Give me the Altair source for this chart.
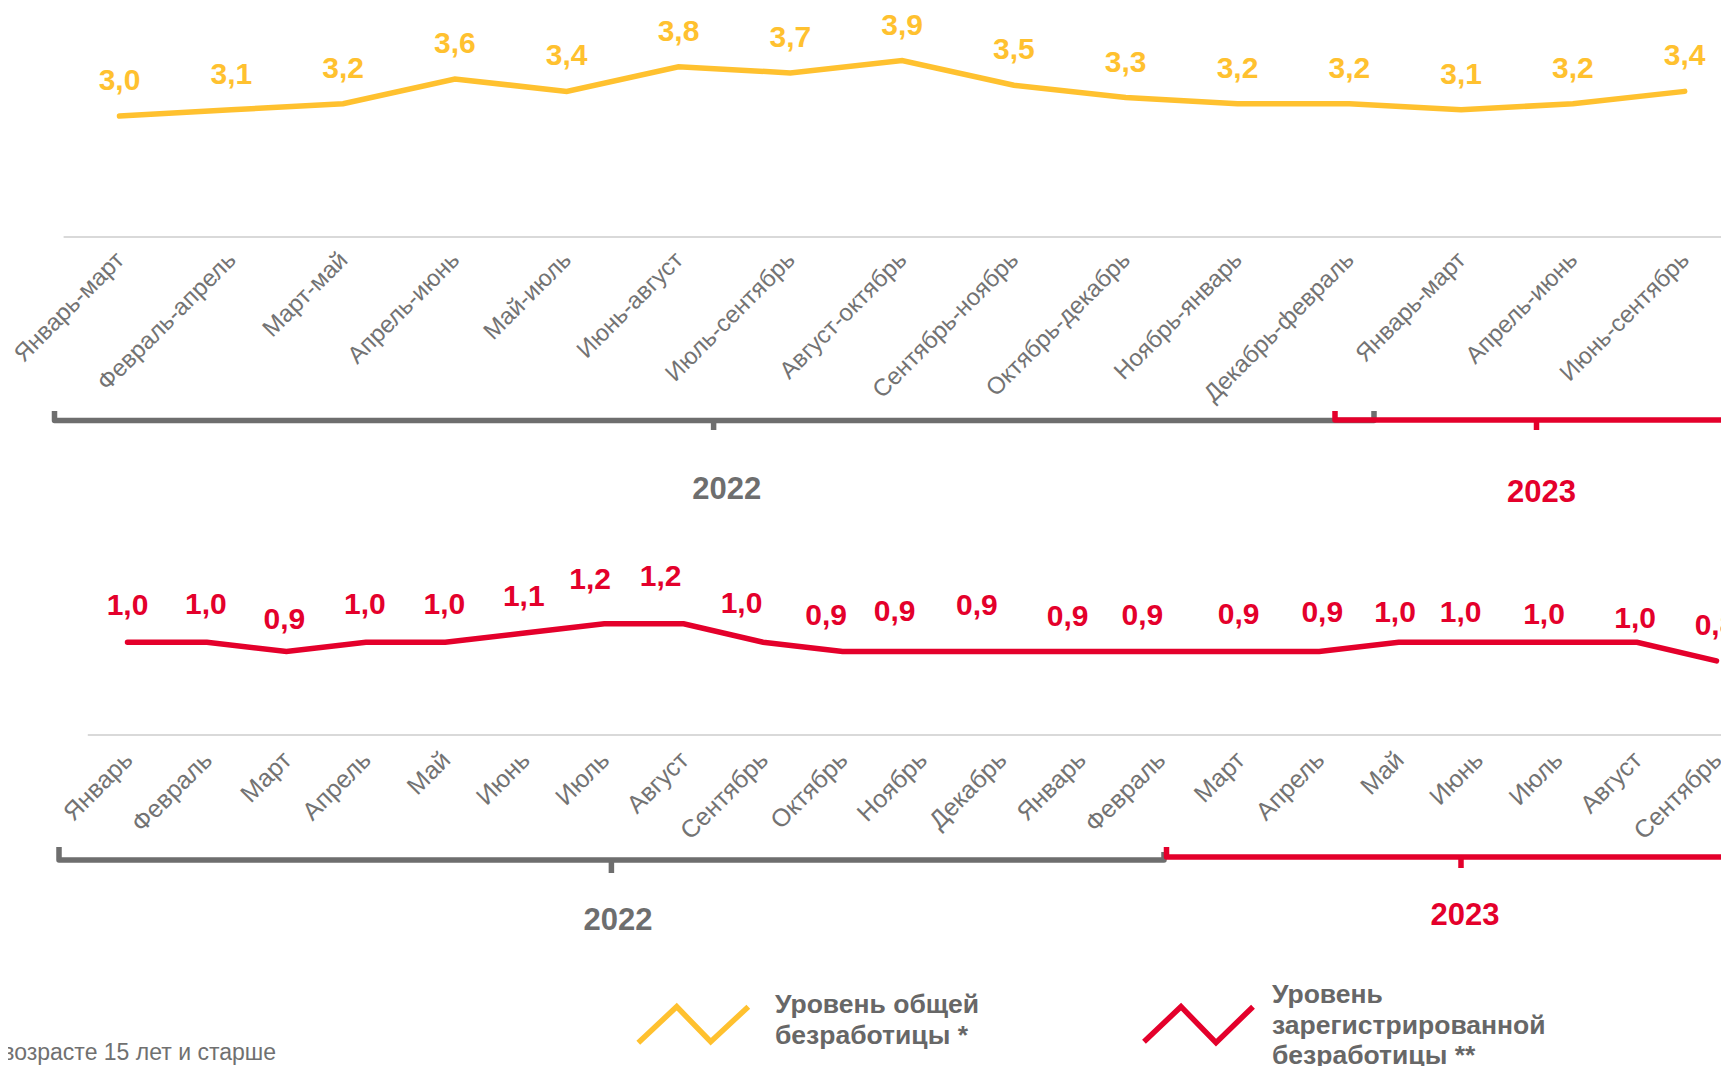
import altair as alt
import pandas as pd

# ---------------- data ----------------
TOP_PERIODS = ["Январь-март", "Февраль-апрель", "Март-май", "Апрель-июнь", "Май-июль",
               "Июнь-август", "Июль-сентябрь", "Август-октябрь", "Сентябрь-ноябрь",
               "Октябрь-декабрь", "Ноябрь-январь", "Декабрь-февраль", "Январь-март",
               "Апрель-июнь", "Июнь-сентябрь"]
TOP_VALUES = [3.0, 3.1, 3.2, 3.6, 3.4, 3.8, 3.7, 3.9, 3.5, 3.3, 3.2, 3.2, 3.1, 3.2, 3.4]

BOTTOM_MONTHS = ["Январь", "Февраль", "Март", "Апрель", "Май", "Июнь", "Июль", "Август",
                 "Сентябрь", "Октябрь", "Ноябрь", "Декабрь", "Январь", "Февраль", "Март",
                 "Апрель", "Май", "Июнь", "Июль", "Август", "Сентябрь"]
BOTTOM_VALUES = [1.0, 1.0, 0.9, 1.0, 1.0, 1.1, 1.2, 1.2, 1.0, 0.9, 0.9, 0.9, 0.9, 0.9,
                 0.9, 0.9, 1.0, 1.0, 1.0, 1.0, 0.8]

YEARS = ["2022", "2023"]
LEGEND_TOTAL = ["Уровень общей", "безработицы *"]
LEGEND_REG = ["Уровень", "зарегистрированной", "безработицы **"]
FOOTNOTE = "возрасте 15 лет и старше"

# ---------------- style / layout ----------------
FONT = "Liberation Sans, Arial, sans-serif"
YELLOW = "#FFC12F"
RED = "#E4002B"
GRAY = "#6E6E6E"
LABEL_GRAY = "#737373"
TEXT_GRAY = "#676767"
AXIS_GRAY = "#D9D9D9"

W, H = 1713, 1058
OX, OY = 8, 8

T_X0, T_STEP = 119.5, 111.8
T_Y3, T_PPU = 116.0, 61.6
B_X0, B_STEP = 127.5, 79.45
B_Y0, B_PPU = 735.0, 92.7


def tx(px): return (px - T_X0) / T_STEP
def ty(py): return 3.0 + (T_Y3 - py) / T_PPU
def bx(px): return (px - B_X0) / B_STEP
def by(py): return (B_Y0 - py) / B_PPU


TXD = [tx(OX), tx(OX + W)]
TYD = [ty(OY + H), ty(OY)]
BXD = [bx(OX), bx(OX + W)]
BYD = [by(OY + H), by(OY)]


def X(f, dom):
    return alt.X(f, type="quantitative", scale=alt.Scale(domain=dom, nice=False, zero=False), axis=None)


def Y(f, dom):
    return alt.Y(f, type="quantitative", scale=alt.Scale(domain=dom, nice=False, zero=False), axis=None)


def fmt(v):
    return f"{v:.1f}".replace(".", ",")


# bottom label nudges (px) reproducing the manual placement
BOT_DX = [0, -1, -2, -1, -1, -1, -14, -23, -21.6, -16.5, -27.3, -24.5, -13.2, -18, -1.2, 3,
          -3.7, -17.6, -13.6, -2, -1]
BOT_DY = [-36, -37, -32, -37, -37, -36.5, -44, -47, -38, -36, -39.3, -45.6, -35, -35.6,
          -36.4, -39, -29.3, -29.8, -27, -23.3, -34.8]

top = pd.DataFrame({"i": range(len(TOP_VALUES)), "v": TOP_VALUES, "tick": TOP_PERIODS})
top["lab"] = [fmt(v) for v in TOP_VALUES]
top["tx"] = top["i"] + 1 / T_STEP
top["ty"] = ty(256.5)

bot = pd.DataFrame({"i": range(len(BOTTOM_VALUES)), "v": BOTTOM_VALUES, "tick": BOTTOM_MONTHS})
bot["lab"] = [fmt(v) for v in BOTTOM_VALUES]
bot["lx"] = bot["i"] + pd.Series(BOT_DX) / B_STEP
bot["ly"] = bot["v"] - pd.Series(BOT_DY) / B_PPU
bot["tx"] = bot["i"] + 1 / B_STEP
bot["ty"] = by(756)

layers = []

# axis baselines
layers.append(alt.Chart(pd.DataFrame({"a": [-0.5], "b": [TXD[1] + 1], "y": [ty(237)]})).mark_rule(
    color=AXIS_GRAY, strokeWidth=2).encode(x=X("a", TXD), x2="b", y=Y("y", TYD)))
layers.append(alt.Chart(pd.DataFrame({"a": [-0.5], "b": [BXD[1] + 1], "y": [by(735)]})).mark_rule(
    color=AXIS_GRAY, strokeWidth=2).encode(x=X("a", BXD), x2="b", y=Y("y", BYD)))

# lines
layers.append(alt.Chart(top).mark_line(color=YELLOW, strokeWidth=5.5, strokeCap="round").encode(
    x=X("i", TXD), y=Y("v", TYD)))
layers.append(alt.Chart(bot).mark_line(color=RED, strokeWidth=5.5, strokeCap="round").encode(
    x=X("i", BXD), y=Y("v", BYD)))

# value labels
layers.append(alt.Chart(top).mark_text(font=FONT, fontSize=30, fontWeight="bold", color=YELLOW,
                                       baseline="middle", dy=-35).encode(
    x=X("i", TXD), y=Y("v", TYD), text="lab:N"))
layers.append(alt.Chart(bot).mark_text(font=FONT, fontSize=30, fontWeight="bold", color=RED,
                                       baseline="middle").encode(
    x=X("lx", BXD), y=Y("ly", BYD), text="lab:N"))

# category labels
layers.append(alt.Chart(top).mark_text(font=FONT, fontSize=24, color=LABEL_GRAY, align="right",
                                       baseline="middle", angle=315).encode(
    x=X("tx", TXD), y=Y("ty", TYD), text="tick:N"))
layers.append(alt.Chart(bot).mark_text(font=FONT, fontSize=25, color=LABEL_GRAY, align="right",
                                       baseline="middle", angle=315).encode(
    x=X("tx", BXD), y=Y("ty", BYD), text="tick:N"))

# braces
BRACES = [
    # panel, x0, x1, xt, base, hook0, hook1, tickbottom, colour
    ("top", tx(54.5), tx(1374), tx(713.6), 420.5, 411, 411, 430, GRAY),
    ("top", tx(1335), tx(1800), tx(1536.5), 420.0, 411, 411, 430, RED),
    ("bot", bx(59), bx(1164), bx(611.4), 860.0, 847, 852, 873, GRAY),
    ("bot", bx(1166.5), bx(1800), bx(1461), 857.0, 847, 847, 868, RED),
]
for panel, x0, x1, xt, base, h0, h1, tb, col in BRACES:
    fx, fy = (tx, ty) if panel == "top" else (bx, by)
    xd, yd = (TXD, TYD) if panel == "top" else (BXD, BYD)
    path = pd.DataFrame({"k": [0, 1, 2, 3], "x": [x0, x0, x1, x1],
                         "y": [fy(h0), fy(base), fy(base), fy(h1)]})
    layers.append(alt.Chart(path).mark_line(color=col, strokeWidth=5.5, strokeJoin="round",
                                            strokeCap="butt").encode(
        x=X("x", xd), y=Y("y", yd), order="k:Q"))
    layers.append(alt.Chart(pd.DataFrame({"x": [xt], "y": [fy(base)], "y2": [fy(tb)]})).mark_rule(
        color=col, strokeWidth=5.5).encode(x=X("x", xd), y=Y("y", yd), y2="y2"))

# year labels
yt = pd.DataFrame({"t": YEARS, "x": [tx(726.7), tx(1541.5)], "y": [ty(489.5), ty(493)],
                   "c": [GRAY, RED]})
layers.append(alt.Chart(yt).mark_text(font=FONT, fontSize=31, fontWeight="bold",
                                      baseline="middle").encode(
    x=X("x", TXD), y=Y("y", TYD), text="t:N", color=alt.Color("c:N", scale=None)))
yb = pd.DataFrame({"t": YEARS, "x": [bx(618), bx(1465)], "y": [by(921), by(915.5)],
                   "c": [GRAY, RED]})
layers.append(alt.Chart(yb).mark_text(font=FONT, fontSize=31, fontWeight="bold",
                                      baseline="middle").encode(
    x=X("x", BXD), y=Y("y", BYD), text="t:N", color=alt.Color("c:N", scale=None)))

# legend
zz = pd.DataFrame({
    "s": ["y"] * 4 + ["r"] * 4,
    "k": [0, 1, 2, 3] * 2,
    "x": [bx(p) for p in [638.3, 676.7, 710.7, 748.3, 1144, 1181, 1216, 1253]],
    "y": [by(p) for p in [1042.7, 1006.7, 1041.7, 1006.7, 1041.7, 1006.7, 1042.7, 1006.7]],
    "c": [YELLOW] * 4 + [RED] * 4,
})
layers.append(alt.Chart(zz).mark_line(strokeWidth=5.5, strokeJoin="miter").encode(
    x=X("x", BXD), y=Y("y", BYD), order="k:Q", detail="s:N",
    color=alt.Color("c:N", scale=None)))
lt = pd.DataFrame({
    "t": LEGEND_TOTAL + LEGEND_REG,
    "x": [bx(775)] * 2 + [bx(1272)] * 3,
    "y": [by(p) for p in [1004.5, 1035.5, 995, 1025.5, 1056]],
})
layers.append(alt.Chart(lt).mark_text(font=FONT, fontSize=26.5, fontWeight="bold", color=TEXT_GRAY,
                                      align="left", baseline="middle").encode(
    x=X("x", BXD), y=Y("y", BYD), text="t:N"))

# footnote
layers.append(alt.Chart(pd.DataFrame({"t": [FOOTNOTE], "x": [bx(276)], "y": [by(1053)]})).mark_text(
    font=FONT, fontSize=23, color="#707070", align="right", baseline="middle").encode(
    x=X("x", BXD), y=Y("y", BYD), text="t:N"))

chart = alt.layer(*layers).resolve_scale(x="independent", y="independent").properties(
    width=W, height=H, autosize=alt.AutoSizeParams(type="none"), padding=0,
    background="white").configure_view(stroke=None)

chart.save("out.html", embed_options={"renderer": "svg", "actions": False})
